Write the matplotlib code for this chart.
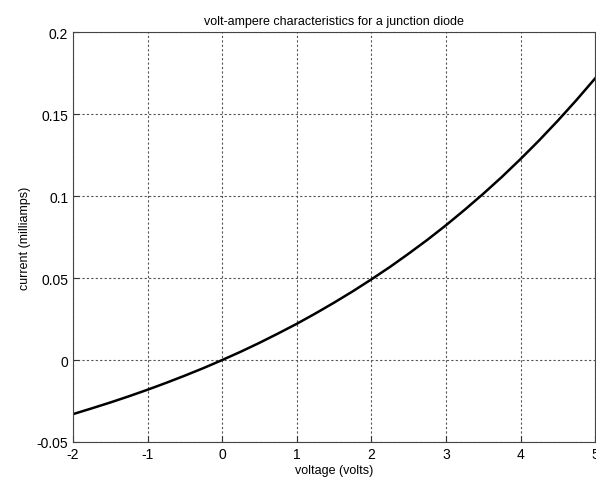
import matplotlib.pyplot as plt

# voltage (volts) and current (milliamps)
voltage = [-2, -1.75, -1.5, -1.25, -1, -0.75, -0.5, -0.25, 0, 0.25, 0.5, 0.75,
           1, 1.25, 1.5, 1.75, 2, 2.25, 2.5, 2.75, 3, 3.25, 3.5, 3.75,
           4, 4.25, 4.5, 4.75, 5]
current = [-0.0330, -0.0295, -0.0259, -0.0221, -0.0181, -0.0139, -0.0095, -0.0049,
           0.0, 0.0051, 0.0105, 0.0162, 0.0221, 0.0284, 0.0350, 0.0419,
           0.0492, 0.0568, 0.0649, 0.0733, 0.0822, 0.0916, 0.1014, 0.1117,
           0.1226, 0.1340, 0.1460, 0.1586, 0.1718]
xticks = [-2, -1, 0, 1, 2, 3, 4, 5]
yticks = [-0.05, 0, 0.05, 0.1, 0.15, 0.2]
ytick_labels = ['-0.05', '0', '0.05', '0.1', '0.15', '0.2']

plt.rcParams['font.family'] = ['Liberation Sans', 'DejaVu Sans']
plt.rcParams['axes.unicode_minus'] = False

fig = plt.figure(figsize=(5.96, 4.85), dpi=100)
ax = fig.add_axes([0.1225, 0.0866, 0.876, 0.845])

ax.plot(voltage, current, color='black', linewidth=1.8)

ax.set_xlim(-2, 5)
ax.set_ylim(-0.05, 0.2)
ax.set_xticks(xticks)
ax.set_yticks(yticks)
ax.set_yticklabels(ytick_labels)
ax.tick_params(direction='in', length=4, labelsize=10, color='#333333')
ax.grid(True, linestyle=(0, (2, 2)), color='#555555', linewidth=0.8)
for s in ax.spines.values():
    s.set_color('#444444')

ax.set_title('volt-ampere characteristics for a junction diode', fontsize=9)
ax.set_xlabel('voltage (volts)', fontsize=9, labelpad=2)
ax.set_ylabel('current (milliamps)', fontsize=9)

fig.savefig('out.png', dpi=100)
